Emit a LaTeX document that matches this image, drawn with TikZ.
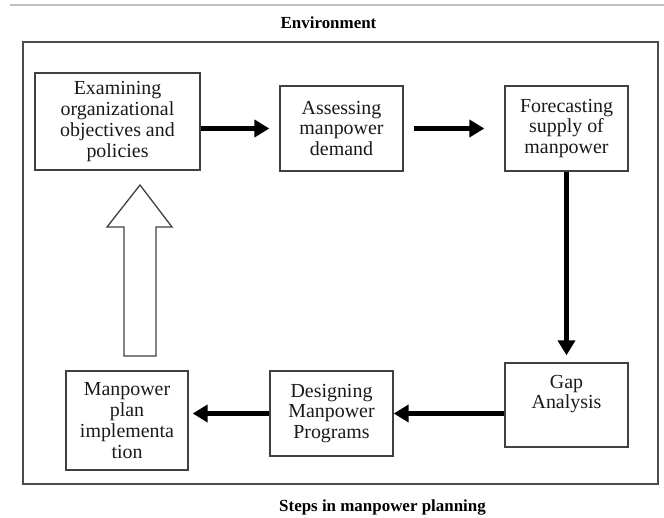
\documentclass[tikz,border=0pt]{standalone}
\usepackage{fontspec}
\setmainfont{Liberation Serif}
\usetikzlibrary{arrows.meta}

\begin{document}
\begin{tikzpicture}[x=1bp, y=-1bp,
    stepbox/.style={draw=black!75, line width=1.3bp, align=center, inner sep=2bp,
      font=\fontsize{20}{20.8}\selectfont, text=black!90},
    flow/.style={line width=5.5bp, -{Triangle[length=15bp,width=17bp]}},
  ]
    \useasboundingbox (0,0) rectangle (664,518);
    \draw[black!25, line width=1.5bp] (10,5) -- (664,5);
    \node[font=\bfseries\fontsize{17}{19}\selectfont] (env) at (328.5,23) {Environment};
    \draw[black!70, line width=1.8bp] (23,42) rectangle (658,484);

    \node[stepbox, minimum width=165bp, minimum height=97bp] (examine) at (117.5,121.5)
      {Examining\\organizational\\objectives and\\policies};
    \node[stepbox, minimum width=123bp, minimum height=85bp] (assess) at (341.5,128.5)
      {Assessing\\manpower\\demand};
    \node[stepbox, minimum width=123bp, minimum height=85bp] (forecast) at (566.5,128.5)
      {Forecasting\\supply of\\manpower};
    \node[stepbox, minimum width=123bp, minimum height=84bp] (gap) at (566.5,405) {};
    \node[stepbox, draw=none] (gaptext) at ([yshift=11bp]gap.center) {Gap\\Analysis};
    \node[stepbox, minimum width=123bp, minimum height=85bp] (design) at (331.5,413.5)
      {Designing\\Manpower\\Programs};
    \node[stepbox, minimum width=122bp, minimum height=99bp] (implement) at (127,420.5)
      {Manpower\\plan\\implementa\\tion};

    \draw[flow, shorten >=10bp] (examine.east |- assess.west) -- (assess.west);
    \draw[flow, shorten <=10bp, shorten >=20bp] (assess.east) -- (forecast.west);
    \draw[flow, shorten >=7bp] (forecast.south) -- (gap.north);
    \draw[flow] (gap.west |- design.east) -- (design.east);
    \draw[flow, shorten >=4bp] (design.west) -- (implement.east |- design.west);

    % hollow arrow back to the first step
    \draw[black!75, line width=1.3bp, line join=miter]
      (124,356) -- (124,227) -- (107,227) -- (140,185) -- (172,227) -- (156,227) -- (156,356) -- cycle;

    \node[font=\bfseries\fontsize{17}{19}\selectfont] (caption) at (382.5,507) {Steps in manpower planning};
\end{tikzpicture}
\end{document}
